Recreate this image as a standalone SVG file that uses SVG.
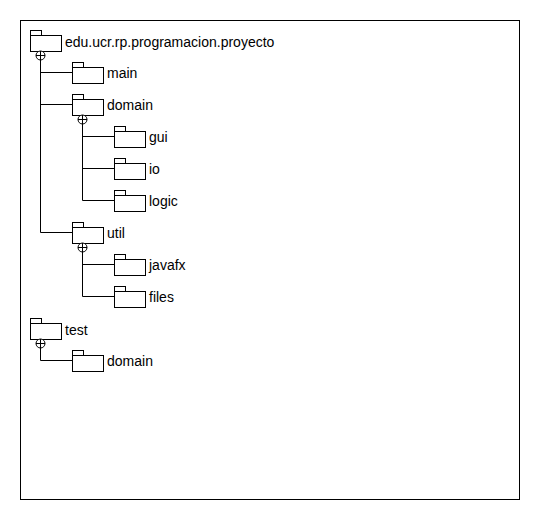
<svg xmlns="http://www.w3.org/2000/svg" width="540" height="520" viewBox="0 0 540 520">
<defs>
<style>
.f{fill:#fff;stroke:#000;stroke-width:1}
.c{fill:none;stroke:#000;stroke-width:1}
text{font-family:"Liberation Sans",Arial,sans-serif;font-size:14px;fill:#000}
</style>
<g id="folder"><rect class="f" x="0" y="-10" width="11" height="5"/><rect class="f" x="0" y="-5" width="31" height="16"/></g>
<g id="plus"><circle class="f" cx="0" cy="0" r="4.5"/><path class="c" d="M-4.5 0H4.5M0 -4.5V4.5"/></g>
</defs>
<rect class="c" x="20.5" y="20.5" width="499" height="479"/>
<g id="connectors">
<path class="c" d="M40.5 59.5V232.5H72.5M40.5 72.5H72.5M40.5 104.5H72.5"/>
<path class="c" d="M82.5 123.5V200.5H114.5M82.5 136.5H114.5M82.5 168.5H114.5"/>
<path class="c" d="M82.5 251.5V296.5H114.5M82.5 264.5H114.5"/>
<path class="c" d="M40.5 347.5V360.5H72.5"/>
</g>
<g id="root"><use href="#folder" x="30.5" y="40.5"/><use href="#plus" x="40.5" y="55.5"/><text x="65" y="47">edu.ucr.rp.programacion.proyecto</text></g>
<g id="main"><use href="#folder" x="72.5" y="72.5"/><text x="107" y="78">main</text></g>
<g id="domain"><use href="#folder" x="72.5" y="104.5"/><use href="#plus" x="82.5" y="119.5"/><text x="107" y="110">domain</text></g>
<g id="gui"><use href="#folder" x="114.5" y="136.5"/><text x="149" y="142">gui</text></g>
<g id="io"><use href="#folder" x="114.5" y="168.5"/><text x="149" y="174">io</text></g>
<g id="logic"><use href="#folder" x="114.5" y="200.5"/><text x="149" y="206">logic</text></g>
<g id="util"><use href="#folder" x="72.5" y="232.5"/><use href="#plus" x="82.5" y="247.5"/><text x="107" y="238">util</text></g>
<g id="javafx"><use href="#folder" x="114.5" y="264.5"/><text x="149" y="270">javafx</text></g>
<g id="files"><use href="#folder" x="114.5" y="296.5"/><text x="149" y="302">files</text></g>
<g id="test"><use href="#folder" x="30.5" y="328.5"/><use href="#plus" x="40.5" y="343.5"/><text x="65" y="335">test</text></g>
<g id="test-domain"><use href="#folder" x="72.5" y="360.5"/><text x="107" y="366">domain</text></g>
</svg>
